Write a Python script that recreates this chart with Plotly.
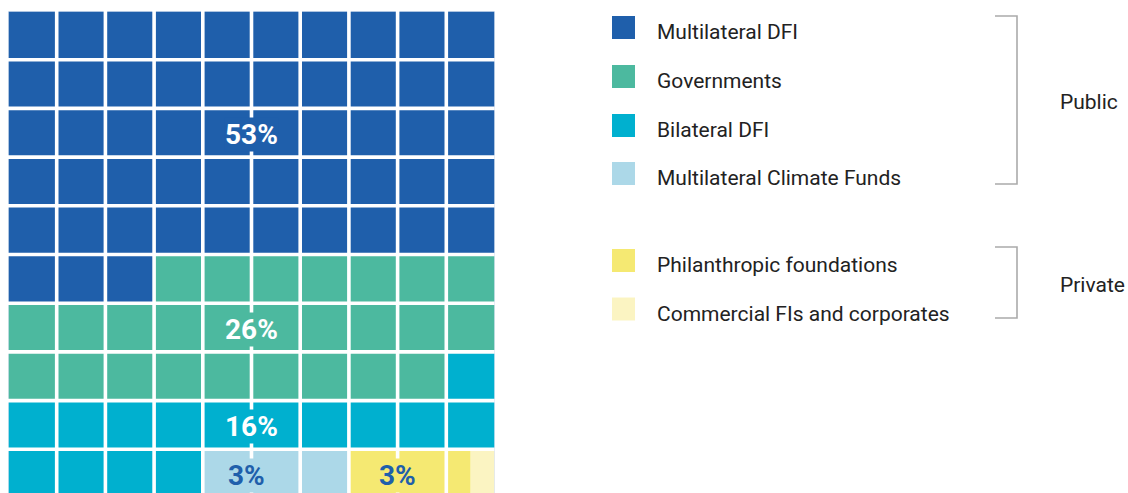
import plotly.graph_objects as go

# ---- data ----
categories = ["Multilateral DFI", "Governments", "Bilateral DFI",
              "Multilateral Climate Funds", "Philanthropic foundations",
              "Commercial FIs and corporates"]
cells = [53, 26, 15, 3, 2.5, 0.5]           # squares out of 100
colors = ["#1f5fab", "#4cb99f", "#00b0cf", "#acd8e8", "#f5e972", "#fbf4c2"]
labels = ["53%", "26%", "16%", "3%", "3%"]
label_x = [5, 5, 5, 4.9, 8]                 # label placement (grid units)
label_row = [2.5, 6.5, 8.5, 9.5, 9.5]
label_colors = ["white", "white", "white", "#1f5fab", "#1f5fab"]
groups = [("Public", 0, 3), ("Private", 4, 5)]

NCOL = 10
W, H = 1128, 493
ML, MT = 8, 11
PITCH = 48.7

fig = go.Figure()

# waffle rows as horizontal bar segments
start = 0.0
for cat, n, col in zip(categories, cells, colors):
    end = start + n
    ys, xs, bases = [], [], []
    for r in range(10):
        lo, hi = r * NCOL, (r + 1) * NCOL
        a, b = max(start, lo), min(end, hi)
        if b > a:
            ys.append(r + 0.5)
            bases.append(a - lo)
            xs.append(b - a)
    fig.add_trace(go.Bar(orientation="h", y=ys, x=xs, base=bases, width=1,
                         marker=dict(color=col, line=dict(width=0)),
                         name=cat, showlegend=False, hoverinfo="skip"))
    start = end

plot_w = W - ML
plot_h = H - MT
x_dom = PITCH * NCOL / plot_w
y_rows = plot_h / PITCH

# grid lines
for i in range(NCOL + 1):
    outer = i in (0, NCOL)
    lw = 1.5 if outer else 3.6
    lc = "#dfe7f3" if outer else "white"
    fig.add_shape(type="line", x0=i, x1=i, y0=0, y1=10, xref="x", yref="y",
                  line=dict(color=lc, width=lw), layer="above")
    fig.add_shape(type="line", x0=0, x1=NCOL, y0=i, y1=i, xref="x", yref="y",
                  line=dict(color=lc, width=lw), layer="above")

for idx, (t, x, r, c) in enumerate(zip(labels, label_x, label_row, label_colors)):
    fig.add_annotation(x=x, y=r + 0.03, xref="x", yref="y", text="<b>%s</b>" % t,
                       showarrow=False, font=dict(family="Roboto", size=28, color=c),
                       bgcolor=colors[idx], borderpad=0,
                       xanchor="center", yanchor="middle")

# ---- legend (drawn in pixel coordinates) ----
def px(x):
    return (x - ML) / plot_w

def py(y):
    return (H - y) / plot_h

sq_y = [27.5, 76.5, 125.5, 173.5, 260.5, 309]
for cat, col, yc in zip(categories, colors, sq_y):
    fig.add_shape(type="rect", xref="paper", yref="paper",
                  x0=px(612), x1=px(635), y0=py(yc - 11.5), y1=py(yc + 11.5),
                  fillcolor=col, line=dict(width=0))
    fig.add_annotation(x=px(655), y=py(yc + 4.5), xref="paper", yref="paper",
                       text=cat, showarrow=False, xanchor="left", yanchor="middle",
                       font=dict(family="Roboto", size=21, color="#222222"))

brackets = [(16, 184), (247, 318)]
for (name, i0, i1), (y0, y1) in zip(groups, brackets):
    pts = [(995, y0), (1017, y0), (1017, y1), (995, y1)]
    path = "M " + " L ".join("%f,%f" % (px(a), py(b)) for a, b in pts)
    fig.add_shape(type="path", path=path, xref="paper", yref="paper",
                  line=dict(color="#ababab", width=1.6))
    fig.add_annotation(x=px(1058), y=py((y0 + y1) / 2 + 2), xref="paper", yref="paper",
                       text=name, showarrow=False, xanchor="left", yanchor="middle",
                       font=dict(family="Roboto", size=21, color="#222222"))

fig.update_layout(
    width=W, height=H,
    margin=dict(l=ML, r=0, t=MT, b=0, pad=0),
    paper_bgcolor="white", plot_bgcolor="white",
    barmode="overlay", showlegend=False,
    xaxis=dict(domain=[0, x_dom], range=[0, NCOL], visible=False, fixedrange=True),
    yaxis=dict(domain=[0, 1], range=[y_rows, 0], visible=False, fixedrange=True),
)

fig.write_html("out.html", config={"displayModeBar": False},
               post_script="document.body.style.margin='0';document.body.style.overflow='hidden';")
